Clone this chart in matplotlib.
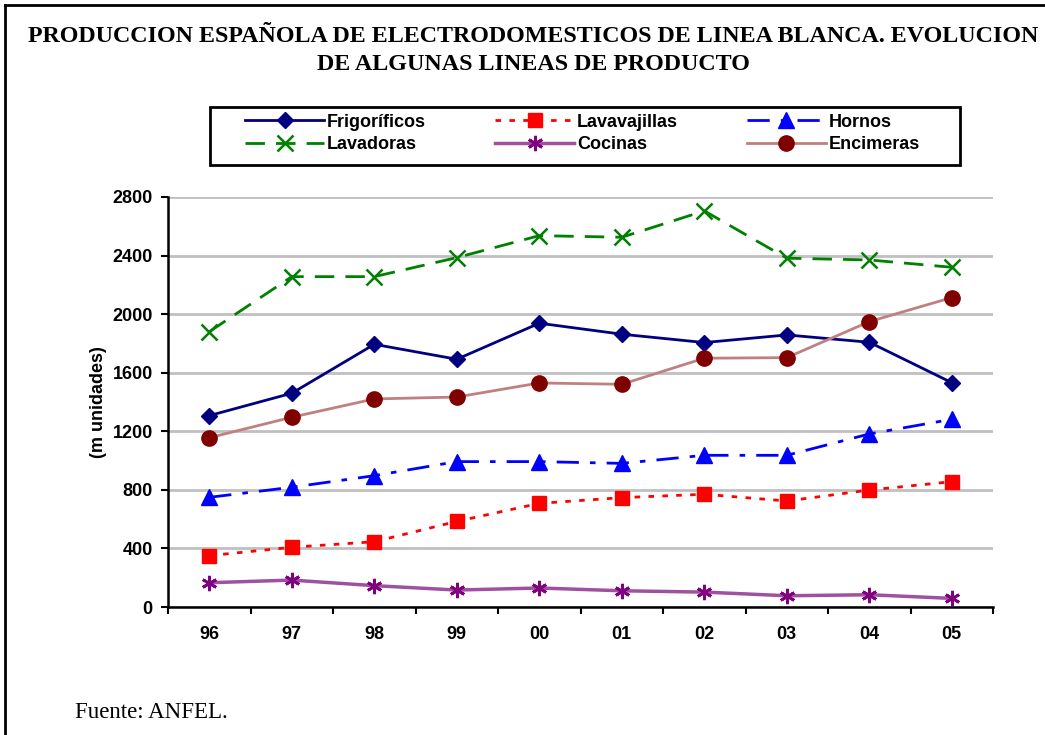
import matplotlib
matplotlib.use("Agg")
import matplotlib.pyplot as plt
from matplotlib.lines import Line2D
from matplotlib.patches import Rectangle

# Data (m unidades)
years = ['96', '97', '98', '99', '00', '01', '02', '03', '04', '05']
frigorificos = [1307, 1460, 1794, 1692, 1938, 1863, 1806, 1858, 1808, 1532]
lavavajillas = [351, 408, 446, 585, 708, 747, 770, 724, 799, 856]
hornos = [749, 818, 897, 993, 993, 981, 1036, 1036, 1182, 1282]
lavadoras = [1880, 2256, 2256, 2386, 2536, 2525, 2705, 2382, 2370, 2320]
cocinas = [166, 184, 146, 116, 130, 111, 102, 77, 84, 59]
encimeras = [1156, 1296, 1421, 1434, 1530, 1521, 1699, 1703, 1949, 2113]
yticks = list(range(0, 2801, 400))

W, H = 1045, 735
fig = plt.figure(figsize=(W / 100, H / 100), dpi=100)
ax = fig.add_axes([0.1608, 0.1741, 0.7895, 0.5579])
x = list(range(len(years)))

h_fri, = ax.plot(x, frigorificos, color='#000080', lw=2, marker='D', ms=8,
                 mfc='#000080', mec='#000080', label='Frigoríficos')
h_lvv, = ax.plot(x, lavavajillas, color='#FF0000', lw=2, ls=(0, (2, 3)), marker='s', ms=10,
                 mfc='#FF0000', mec='#FF0000', label='Lavavajillas')
h_hor, = ax.plot(x, hornos, color='#0000FF', lw=2, ls=(0, (8, 4, 2, 4)), marker='^', ms=11,
                 mfc='#0000FF', mec='#0000FF', label='Hornos')
h_lvd, = ax.plot(x, lavadoras, color='#008000', lw=2, ls=(0, (7, 4)), marker='x', ms=11,
                 mew=1.8, mec='#008000', label='Lavadoras')
h_coc, = ax.plot(x, cocinas, color='#A050A0', lw=2.5, marker=(6, 2, 0), ms=11, mew=2,
                 mec='#800080', label='Cocinas')
h_enc, = ax.plot(x, encimeras, color='#C08080', lw=2, marker='o', ms=11,
                 mfc='#800000', mec='#800000', label='Encimeras')

ax.set_xlim(-0.5, len(years) - 0.5)
ax.set_ylim(0, 2800)
ax.set_xticks(x)
ax.set_xticklabels(years, fontsize=13, fontweight='bold', family='Liberation Sans')
ax.set_xticks([i + 0.5 for i in range(-1, len(years))], minor=True)
ax.tick_params(axis='x', which='major', length=0, pad=14)
ax.tick_params(axis='x', which='minor', length=5, width=1.5, direction='out')
ax.set_yticks(yticks)
ax.set_yticklabels([str(v) for v in yticks], fontsize=13, fontweight='bold',
                   family='Liberation Sans')
ax.tick_params(axis='y', length=5, width=1.5, direction='out', pad=6)
ax.set_ylabel('(m unidades)', fontsize=13, fontweight='bold', family='Liberation Sans',
              labelpad=4)
ax.yaxis.grid(True, color='#C0C0C0', lw=2)
ax.set_axisbelow(True)
for s in ['top', 'right']:
    ax.spines[s].set_visible(False)
for s in ['left', 'bottom']:
    ax.spines[s].set_linewidth(1.8)
    ax.spines[s].set_color('black')

# legend box drawn separately, entries filled column-wise -> reorder to read row-wise
fig.add_artist(Rectangle((210 / W, 1 - 165 / H), 750 / W, 58 / H, transform=fig.transFigure,
                         fill=False, edgecolor='black', lw=2))
handles = [h_fri, h_lvd, h_lvv, h_coc, h_hor, h_enc]
leg = fig.legend(handles=handles, labels=[h.get_label() for h in handles],
                 loc='center', ncol=3,
                 bbox_to_anchor=(245 / W, 1 - (133.5 + 29) / H, 675 / W, 58 / H),
                 mode='expand', borderaxespad=0, borderpad=0, handlelength=4.4,
                 frameon=False, prop={'family': 'Liberation Sans', 'weight': 'bold', 'size': 13},
                 labelspacing=0.3, handletextpad=0.15)

fig.text(0.51, 1 - 36 / H, 'PRODUCCION ESPAÑOLA DE ELECTRODOMESTICOS DE LINEA BLANCA. EVOLUCION',
         ha='center', va='center', fontsize=17.3, fontweight='bold', family='Liberation Serif')
fig.text(0.51, 1 - 64 / H, 'DE ALGUNAS LINEAS DE PRODUCTO',
         ha='center', va='center', fontsize=17.3, fontweight='bold', family='Liberation Serif')
fig.text(75 / W, 1 - 712 / H, 'Fuente: ANFEL.', ha='left', va='center',
         fontsize=16.5, family='Liberation Serif')

# page frame (left and top edges)
fig.add_artist(Line2D([5 / W, 5 / W], [0, 1 - 5 / H], color='black', lw=2,
                      transform=fig.transFigure))
fig.add_artist(Line2D([5 / W, 1], [1 - 5 / H, 1 - 5 / H], color='black', lw=2,
                      transform=fig.transFigure))

fig.savefig('out.png', dpi=100)
